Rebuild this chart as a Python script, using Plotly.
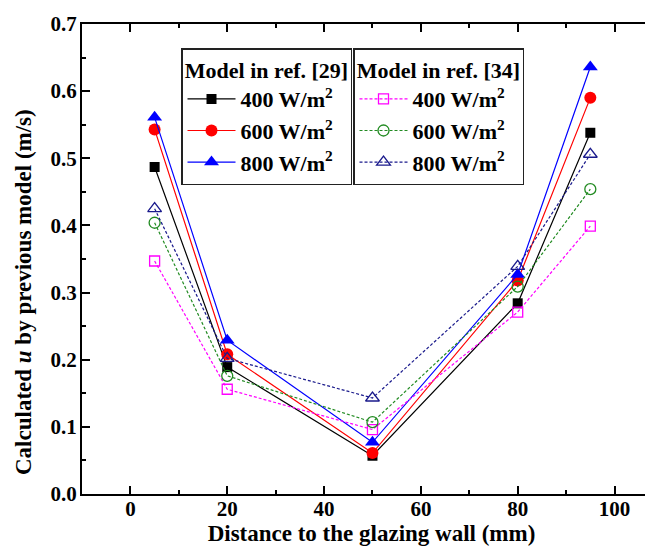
import plotly.graph_objects as go

x_mm = [5, 20, 50, 80, 95]

# Model in ref. [29]
m29_400 = [0.487, 0.189, 0.057, 0.284, 0.538]
m29_600 = [0.543, 0.208, 0.061, 0.318, 0.590]
m29_800 = [0.561, 0.229, 0.077, 0.327, 0.636]
# Model in ref. [34]
m34_400 = [0.347, 0.156, 0.096, 0.271, 0.399]
m34_600 = [0.404, 0.176, 0.107, 0.309, 0.454]
m34_800 = [0.425, 0.202, 0.143, 0.339, 0.506]

labels = ["400 W/m<sup>2</sup>", "600 W/m<sup>2</sup>", "800 W/m<sup>2</sup>"]

FONT = "Liberation Serif"

fig = go.Figure()

solid_specs = [
    (m29_400, "#000000", "square", 10),
    (m29_600, "#FF0000", "circle", 12),
    (m29_800, "#0000FF", "triangle-up", 13),
]
for (vals, col, sym, sz), lab in zip(solid_specs, labels):
    fig.add_trace(go.Scatter(
        x=x_mm, y=vals, mode="lines+markers", name=lab,
        line=dict(color=col, width=1.2),
        marker=dict(symbol=sym, size=sz, color=col),
        legend="legend",
    ))

open_specs = [
    (m34_400, "#FF00FF", "square-open", 10),
    (m34_600, "#228B22", "circle-open", 11),
    (m34_800, "#1A1A8C", "triangle-up-open", 12),
]
for (vals, col, sym, sz), lab in zip(open_specs, labels):
    fig.add_trace(go.Scatter(
        x=x_mm, y=vals, mode="lines+markers", name=lab,
        line=dict(color=col, width=1.2, dash="3px,2px"),
        marker=dict(symbol=sym, size=sz, color=col, line=dict(width=1.3, color=col)),
        legend="legend2",
    ))

W, H = 653, 549
L, R, T, B = 74, 0, 16, 63
pw = W - L - R
ph = H - T - B

def px_x(p):
    return (p - L) / pw

def px_y(p):
    return (H - B - p) / ph

legend_common = dict(
    bgcolor="white", bordercolor="#222222", borderwidth=1.5,
    font=dict(family=FONT, size=22, color="black", weight="bold"),
    xanchor="left", yanchor="top", tracegroupgap=0,
    itemwidth=48,
)

fig.update_layout(
    width=W, height=H,
    margin=dict(l=L, r=R, t=T, b=B),
    plot_bgcolor="white", paper_bgcolor="white",
    font=dict(family=FONT, size=21, color="black", weight="bold"),
    legend=dict(
        x=px_x(173), y=px_y(40),
        title=dict(text="Model in ref. [29]", side="top center",
                   font=dict(family=FONT, size=22, weight="bold")),
        **legend_common,
    ),
    legend2=dict(
        x=px_x(345), y=px_y(40),
        title=dict(text="Model in ref. [34]", side="top center",
                   font=dict(family=FONT, size=22, weight="bold")),
        **legend_common,
    ),
    xaxis=dict(
        range=[-10, 109.6], tickvals=[0, 20, 40, 60, 80, 100],
        ticks="inside", ticklen=8, tickwidth=1.5, tickcolor="black",
        minor=dict(tickvals=[10, 30, 50, 70, 90], ticks="inside", ticklen=4,
                   tickwidth=1.5, tickcolor="black"),
        showline=True, linecolor="black", linewidth=2, mirror="ticks",
        showgrid=False, zeroline=False,
        ticklabelstandoff=-5,
        tickfont=dict(family=FONT, size=21, weight="bold"),
        title=dict(text="Distance to the glazing wall (mm)", standoff=3,
                   font=dict(family=FONT, size=23, weight="bold")),
    ),
    yaxis=dict(
        range=[0, 0.7], dtick=0.1, tickformat=".1f",
        ticks="inside", ticklen=8, tickwidth=1.5, tickcolor="black",
        minor=dict(dtick=0.05, ticks="inside", ticklen=4, tickwidth=1.5,
                   tickcolor="black"),
        showline=True, linecolor="black", linewidth=2, mirror=False,
        showgrid=False, zeroline=False,
        ticklabelstandoff=-1,
        tickfont=dict(family=FONT, size=21, weight="bold"),
    ),
    annotations=[dict(
        text="Calculated <i>u</i> by previous model (m/s)",
        xref="paper", yref="paper", x=px_x(16), y=px_y(284),
        xanchor="center", yanchor="middle", textangle=-90, showarrow=False,
        font=dict(family=FONT, size=23, weight="bold", color="black"),
    )],
)

fig.write_html("out.html")
